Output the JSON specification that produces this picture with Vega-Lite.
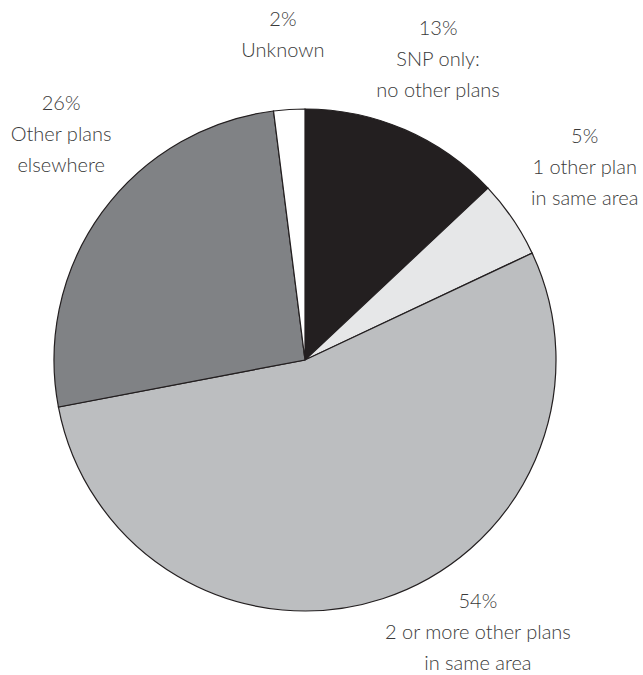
{
  "$schema": "https://vega.github.io/schema/vega-lite/v6.json",
  "autosize": {"type": "none"},
  "width": 502,
  "height": 502,
  "padding": {"left": 54, "top": 109, "right": 87, "bottom": 64},
  "background": "white",
  "config": {"view": {"stroke": null}},
  "data": {
    "values": [
      {"rank": 1, "category": "SNP only: no other plans", "share": 13, "label": "13%\nSNP only:\nno other plans"},
      {"rank": 2, "category": "1 other plan in same area", "share": 5, "label": "5%\n1 other plan\nin same area"},
      {"rank": 3, "category": "2 or more other plans in same area", "share": 54, "label": "54%\n2 or more other plans\nin same area"},
      {"rank": 4, "category": "Other plans elsewhere", "share": 26, "label": "26%\nOther plans\nelsewhere"},
      {"rank": 5, "category": "Unknown", "share": 2, "label": "2%\nUnknown"}
    ]
  },
  "encoding": {
    "theta": {"field": "share", "type": "quantitative", "stack": true},
    "order": {"field": "rank", "type": "quantitative", "sort": "ascending"}
  },
  "layer": [
    {
      "mark": {"type": "arc", "stroke": "#231f20", "strokeWidth": 1.2},
      "encoding": {
        "color": {
          "field": "category",
          "type": "nominal",
          "legend": null,
          "scale": {
            "domain": ["SNP only: no other plans", "1 other plan in same area", "2 or more other plans in same area", "Other plans elsewhere", "Unknown"],
            "range": ["#231f20", "#e6e7e8", "#bcbec0", "#808285", "#ffffff"]
          }
        }
      }
    },
    {
      "mark": {"type": "text", "radius": 320, "dx": 6, "dy": -37, "font": "Lato", "fontWeight": 300, "fontSize": 20, "lineHeight": 31, "lineBreak": "\n", "align": "center", "baseline": "middle", "color": "#3a3a3a"},
      "encoding": {"text": {"condition": {"test": "datum.rank === 1", "field": "label"}, "value": ""}}
    },
    {
      "mark": {"type": "text", "radius": 320, "dx": 15, "dy": -43, "font": "Lato", "fontWeight": 300, "fontSize": 20, "lineHeight": 31, "lineBreak": "\n", "align": "center", "baseline": "middle", "color": "#3a3a3a"},
      "encoding": {"text": {"condition": {"test": "datum.rank === 2", "field": "label"}, "value": ""}}
    },
    {
      "mark": {"type": "text", "radius": 320, "dx": 74, "dy": -62, "font": "Lato", "fontWeight": 300, "fontSize": 20, "lineHeight": 31, "lineBreak": "\n", "align": "center", "baseline": "middle", "color": "#3a3a3a"},
      "encoding": {"text": {"condition": {"test": "datum.rank === 3", "field": "label"}, "value": ""}}
    },
    {
      "mark": {"type": "text", "radius": 320, "dx": 15, "dy": -68, "font": "Lato", "fontWeight": 300, "fontSize": 20, "lineHeight": 31, "lineBreak": "\n", "align": "center", "baseline": "middle", "color": "#3a3a3a"},
      "encoding": {"text": {"condition": {"test": "datum.rank === 4", "field": "label"}, "value": ""}}
    },
    {
      "mark": {"type": "text", "radius": 320, "dx": -2, "dy": -21, "font": "Lato", "fontWeight": 300, "fontSize": 20, "lineHeight": 31, "lineBreak": "\n", "align": "center", "baseline": "middle", "color": "#3a3a3a"},
      "encoding": {"text": {"condition": {"test": "datum.rank === 5", "field": "label"}, "value": ""}}
    }
  ]
}
